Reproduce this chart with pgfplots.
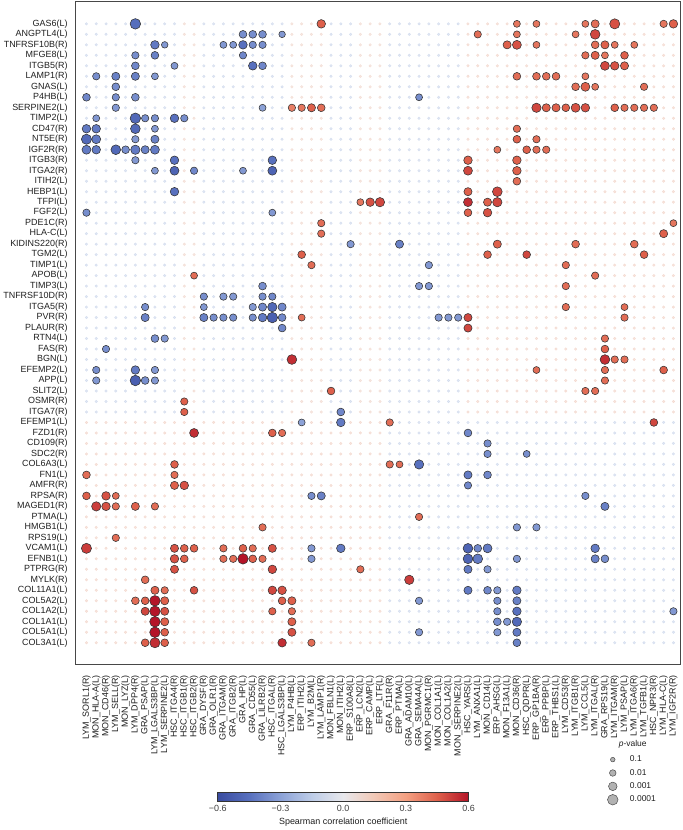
\documentclass[border=0pt]{standalone}
\usepackage{fontspec}
\setmainfont{Liberation Sans}
\usepackage{pgfplots}
\usepackage{pgfplotstable}
\pgfplotsset{compat=1.18}
\usetikzlibrary{calc}

% background (non-significant) cells: column, tint for top rows, tint for bottom rows
\pgfplotstableread{
c vt vb
1 -0.12 0.12
2 -0.12 0.12
3 -0.12 0.12
4 -0.12 0.12
5 -0.12 0.12
6 -0.12 0.12
7 -0.12 0.12
8 -0.12 0.12
9 -0.12 0.12
10 -0.12 0.12
11 0.1 0.12
12 0.1 0.12
13 -0.12 0.12
14 -0.12 0.12
15 -0.12 0.12
16 -0.12 0.12
17 -0.12 0.12
18 -0.12 0.12
19 -0.12 0.12
20 -0.12 0.12
21 -0.12 0.12
22 0.1 0.12
23 0.1 0.12
24 0.1 0.12
25 0.1 0.12
26 -0.12 0.12
27 -0.12 0.12
28 -0.12 0.12
29 0.1 0.12
30 0.1 0.12
31 0.1 0.12
32 -0.12 -0.12
33 -0.12 -0.12
34 -0.12 -0.12
35 -0.12 -0.12
36 -0.12 -0.12
37 -0.12 -0.12
38 -0.12 -0.12
39 -0.12 -0.12
40 0.12 -0.12
41 0.12 -0.12
42 0.12 -0.12
43 0.12 -0.12
44 0.12 -0.12
45 0.12 -0.12
46 0.12 -0.12
47 0.12 -0.12
48 0.12 -0.12
49 0.12 -0.12
50 0.12 -0.12
51 0.12 -0.12
52 0.12 -0.12
53 0.12 -0.12
54 0.12 -0.12
55 0.12 -0.12
56 0.12 -0.12
57 0.12 -0.12
58 0.12 -0.12
59 0.12 -0.12
60 0.12 -0.12
61 0.12 -0.12
}\bgcells

% significant pairs: column, row, Spearman rho, -log10(p)
\pgfplotstableread{
c r v L
6 1 -0.46 4
25 1 0.45 3
45 1 0.40 2.2
47 1 0.40 2.2
52 1 0.40 2.2
53 1 0.42 2.8
55 1 0.48 3.8
60 1 0.40 2.4
61 1 0.45 3
17 2 -0.36 2.6
18 2 -0.36 2.6
19 2 -0.36 2.6
21 2 -0.33 2
41 2 0.42 2.4
45 2 0.40 2.2
51 2 0.40 2.2
53 2 0.50 3.6
8 3 -0.42 3
9 3 -0.33 2
15 3 -0.33 2.2
16 3 -0.33 2.2
17 3 -0.45 3
18 3 -0.36 2.4
19 3 -0.36 2.4
44 3 0.45 2.8
45 3 0.48 3.2
47 3 0.40 2.2
53 3 0.42 2.6
54 3 0.45 2.8
55 3 0.40 2.2
57 3 0.40 2.2
6 4 -0.36 2.4
8 4 -0.40 2.6
17 4 -0.38 2.4
52 4 0.42 2.4
53 4 0.45 2.8
54 4 0.40 2.2
56 4 0.45 2.6
6 5 -0.38 2.6
10 5 -0.33 2.2
18 5 -0.45 3
19 5 -0.38 2.6
54 5 0.50 3.2
55 5 0.48 3
56 5 0.45 2.8
2 6 -0.36 2.4
4 6 -0.40 2.8
6 6 -0.40 2.8
8 6 -0.33 2.2
45 6 0.42 2.6
47 6 0.42 2.6
48 6 0.42 2.6
49 6 0.42 2.6
52 6 0.40 2.2
4 7 -0.36 2.6
51 7 0.42 2.6
52 7 0.45 3.2
53 7 0.40 2.2
58 7 0.42 2.4
1 8 -0.38 2.6
4 8 -0.36 2.4
6 8 -0.36 2.6
35 8 -0.36 2.2
4 9 -0.33 2.4
19 9 -0.30 2.2
22 9 0.38 2.4
23 9 0.40 2.4
24 9 0.45 2.8
25 9 0.42 2.6
47 9 0.50 3.4
48 9 0.45 2.8
49 9 0.45 2.8
50 9 0.45 2.6
51 9 0.48 3.2
52 9 0.48 3
55 9 0.45 2.6
56 9 0.42 2.4
57 9 0.42 2.4
58 9 0.42 2.4
59 9 0.42 2.4
2 10 -0.33 2.2
6 10 -0.48 4
7 10 -0.36 2.4
8 10 -0.36 2.4
10 10 -0.45 3
11 10 -0.36 2.4
1 11 -0.42 3
2 11 -0.42 3
6 11 -0.48 3.6
8 11 -0.33 2.2
45 11 0.42 2.4
1 12 -0.48 3.8
2 12 -0.42 3.2
6 12 -0.33 2.4
8 12 -0.40 2.8
45 12 0.45 2.6
47 12 0.42 2.4
1 13 -0.42 3.2
2 13 -0.42 3
4 13 -0.48 3.6
5 13 -0.36 2.6
6 13 -0.42 3.4
7 13 -0.40 2.8
8 13 -0.42 3.2
43 13 0.40 2.2
46 13 0.45 2.6
47 13 0.42 2.4
48 13 0.42 2.4
6 14 -0.33 2.4
10 14 -0.45 3
20 14 -0.45 3
40 14 0.45 3
45 14 0.45 3
8 15 -0.33 2.2
10 15 -0.50 3.2
12 15 -0.38 2.4
17 15 -0.33 2.2
20 15 -0.50 3.2
40 15 0.50 3.2
45 15 0.45 3
45 16 0.42 2.6
10 17 -0.45 3
40 17 0.45 2.8
43 17 0.50 3.6
29 18 0.40 2.2
30 18 0.48 3
31 18 0.50 3.4
40 18 0.55 3.2
42 18 0.45 2.8
43 18 0.50 3.4
1 19 -0.36 2.4
20 19 -0.33 2.2
40 19 0.45 2.6
42 19 0.48 3
25 20 0.42 2.4
61 20 0.40 2.2
25 21 0.42 2.4
60 21 0.45 2.8
28 22 -0.33 2.4
33 22 -0.40 2.8
43 22 0.45 2.8
51 22 0.42 2.6
57 22 0.42 2.6
23 23 0.45 2.6
42 23 0.45 2.6
46 23 0.50 2.6
58 23 0.45 2.6
24 24 0.42 2.4
36 24 -0.33 2.4
50 24 0.42 2.4
12 25 0.42 2.2
53 25 0.42 2.4
19 26 -0.36 2.6
35 26 -0.33 2.4
36 26 -0.33 2.4
50 26 0.42 2.4
13 27 -0.36 2.4
15 27 -0.33 2.4
16 27 -0.33 2.4
19 27 -0.36 2.4
20 27 -0.38 2.4
7 28 -0.36 2.4
13 28 -0.33 2.2
18 28 -0.33 2.4
19 28 -0.38 2.8
20 28 -0.48 3.4
21 28 -0.38 2.8
50 28 0.42 2.4
56 28 0.42 2.2
7 29 -0.40 2.8
13 29 -0.40 2.8
14 29 -0.36 2.4
15 29 -0.36 2.4
16 29 -0.36 2.4
18 29 -0.36 2.4
19 29 -0.42 3
20 29 -0.52 4
21 29 -0.38 2.6
23 29 0.42 2.2
37 29 -0.33 2.4
38 29 -0.33 2.4
39 29 -0.33 2.4
40 29 0.50 2.8
56 29 0.42 2.4
21 30 -0.38 2.6
40 30 0.50 2.8
8 31 -0.36 2.6
9 31 -0.33 2.4
54 31 0.42 2.4
3 32 -0.36 2.4
54 32 0.45 2.6
22 33 0.55 3.6
54 33 0.55 3.6
55 33 0.42 2.4
56 33 0.42 2.4
2 34 -0.36 2.4
6 34 -0.42 3
8 34 -0.33 2.4
47 34 0.42 2.2
54 34 0.42 2.4
60 34 0.45 2.6
2 35 -0.33 2.4
6 35 -0.52 4
7 35 -0.36 2.6
8 35 -0.33 2.4
54 35 0.42 2.4
26 36 0.45 2.6
52 36 0.42 2.4
53 36 0.42 2.4
11 37 0.45 2.4
11 38 0.45 2.4
27 38 -0.38 2.6
23 39 -0.30 2.2
27 39 -0.42 3
32 39 0.42 2.4
59 39 0.50 2.6
12 40 0.55 3.2
20 40 0.45 2.6
21 40 0.42 2.4
40 40 -0.38 2.6
42 41 -0.36 2.4
42 42 -0.36 2.4
46 42 -0.36 2.2
10 43 0.45 2.6
32 43 0.42 2.4
33 43 0.42 2.2
35 43 -0.45 3.4
1 44 0.42 2.6
10 44 0.42 2.4
40 44 -0.42 2.8
42 44 -0.38 2.6
10 45 0.45 2.8
11 45 0.48 3
40 45 -0.38 2.4
1 46 0.45 2.6
3 46 0.48 3
4 46 0.42 2.2
24 46 -0.36 2.4
25 46 -0.40 2.8
52 46 -0.36 2.4
2 47 0.52 3.4
3 47 0.48 3
4 47 0.42 2.4
6 47 0.45 2.8
8 47 0.42 2.4
54 47 -0.40 2.8
35 48 0.42 2.4
19 49 0.42 2.4
45 49 -0.33 2.4
47 49 -0.33 2.4
4 50 0.42 2.4
1 51 0.52 3.8
10 51 0.48 2.8
11 51 0.45 2.6
12 51 0.45 2.6
15 51 0.42 2.4
17 51 0.45 2.6
18 51 0.42 2.4
20 51 0.48 2.8
24 51 -0.33 2.4
27 51 -0.42 3
40 51 -0.50 3.6
41 51 -0.38 2.6
42 51 -0.42 3.2
53 51 -0.42 3
10 52 0.48 3
11 52 0.45 2.6
15 52 0.42 2.4
16 52 0.42 2.4
17 52 0.60 4
18 52 0.45 2.6
19 52 0.42 2.4
24 52 -0.33 2.4
40 52 -0.50 3.6
41 52 -0.42 3.6
45 52 -0.33 2.4
53 52 -0.40 2.8
54 52 -0.36 2.6
10 53 0.48 2.8
20 53 0.50 3
29 53 0.42 2.4
40 53 -0.42 2.8
42 53 -0.33 2.4
7 54 0.42 2.6
34 54 0.52 3.4
8 55 0.45 2.8
9 55 0.42 2.4
12 55 0.48 2.6
20 55 0.50 3
21 55 0.48 3
40 55 -0.42 2.8
42 55 -0.38 2.6
43 55 -0.33 2.4
45 55 -0.42 3
6 56 0.42 2.6
7 56 0.45 2.6
8 56 0.62 4
9 56 0.45 2.8
21 56 0.45 2.6
22 56 0.45 2.8
35 56 -0.33 2.4
43 56 -0.36 2.4
45 56 -0.40 2.8
7 57 0.50 2.8
8 57 0.62 4
9 57 0.48 2.8
20 57 0.45 2.4
22 57 0.42 2.4
43 57 -0.36 2.4
45 57 -0.45 3
61 57 -0.33 2.4
8 58 0.62 4
9 58 0.45 2.8
22 58 0.45 2.8
43 58 -0.36 2.6
44 58 -0.33 2.4
45 58 -0.48 3.4
8 59 0.62 4
9 59 0.45 2.6
22 59 0.48 2.8
35 59 -0.33 2.4
43 59 -0.33 2.4
45 59 -0.42 2.8
7 60 0.45 2.6
8 60 0.55 3.8
9 60 0.45 2.6
21 60 0.55 3
24 60 0.42 2.4
45 60 -0.40 2.6
}\sigcells

\begin{document}
\begin{tikzpicture}
\begin{axis}[name=main, width=608pt, height=667pt, scale only axis,
 xmin=-0.12, xmax=61.73, ymin=-1.18, ymax=62.1, y dir=reverse,
 xtick={1,...,61}, ytick={1,...,60},
 xticklabels={LYM\_SORL1(R),MON\_HLA-A(L),MON\_CD46(R),LYM\_SELL(R),MON\_LYZ(L),LYM\_DPP4(R),GRA\_PSAP(L),LYM\_LGALS3BP(L),LYM\_SERPINE2(L),HSC\_ITGA4(R),HSC\_ITGB1(R),HSC\_ITGB2(R),GRA\_DYSF(R),GRA\_OLR1(R),GRA\_ITGAM(R),GRA\_ITGB2(R),GRA\_HP(L),GRA\_CD55(L),GRA\_LILRB2(R),HSC\_ITGAL(R),HSC\_LGALS3BP(L),LYM\_P4HB(L),ERP\_ITIH2(L),LYM\_B2M(L),LYM\_LAMP1(R),MON\_FBLN1(L),MON\_ITIH2(L),ERP\_S100A8(L),ERP\_LCN2(L),ERP\_CAMP(L),ERP\_LTF(L),GRA\_F11R(R),ERP\_PTMA(L),GRA\_ADAM10(L),GRA\_SEMA4A(L),MON\_PGRMC1(R),MON\_COL1A1(L),MON\_COL1A2(L),MON\_SERPINE2(L),HSC\_YARS(L),LYM\_ANXA1(L),MON\_CD14(L),ERP\_AHSG(L),MON\_F13A1(L),MON\_CD36(R),HSC\_QDPR(L),ERP\_GP1BA(R),ERP\_PPBP(L),ERP\_THBS1(L),LYM\_CD53(R),LYM\_ITGB1(R),LYM\_CCL5(L),LYM\_ITGAL(R),GRA\_RPS19(L),LYM\_ITGAM(R),LYM\_PSAP(L),LYM\_ITGA6(R),LYM\_TGFB1(L),HSC\_NPR3(R),LYM\_HLA-C(L),LYM\_IGF2R(R)},
 yticklabels={GAS6(L),ANGPTL4(L),TNFRSF10B(R),MFGE8(L),ITGB5(R),LAMP1(R),GNAS(L),P4HB(L),SERPINE2(L),TIMP2(L),CD47(R),NT5E(R),IGF2R(R),ITGB3(R),ITGA2(R),ITIH2(L),HEBP1(L),TFPI(L),FGF2(L),PDE1C(R),HLA-C(L),KIDINS220(R),TGM2(L),TIMP1(L),APOB(L),TIMP3(L),TNFRSF10D(R),ITGA5(R),PVR(R),PLAUR(R),RTN4(L),FAS(R),BGN(L),EFEMP2(L),APP(L),SLIT2(L),OSMR(R),ITGA7(R),EFEMP1(L),FZD1(R),CD109(R),SDC2(R),COL6A3(L),FN1(L),AMFR(R),RPSA(R),MAGED1(R),PTMA(L),HMGB1(L),RPS19(L),VCAM1(L),EFNB1(L),PTPRG(R),MYLK(R),COL11A1(L),COL5A2(L),COL1A2(L),COL1A1(L),COL5A1(L),COL3A1(L)},
 major tick length=0pt,
 tick label style={font=\fontsize{9}{10}\selectfont, text=black!88},
 xticklabel style={rotate=90, anchor=east},
 xticklabel shift=7pt, yticklabel shift=4.5pt,
 axis line style={black!72, line width=0.9pt},
 colormap={cw}{rgb255=(58,76,160) rgb255=(88,112,190) rgb255=(140,162,215) rgb255=(190,205,232) rgb255=(232,232,236) rgb255=(242,200,182) rgb255=(244,160,130) rgb255=(222,96,75) rgb255=(180,20,40)},
 point meta min=-0.6, point meta max=0.6,
 colorbar horizontal,
 colorbar style={at={($(parent axis.south west)+(143pt,-120pt)$)}, anchor=north west,
   width=252pt, height=9pt, major tick length=0pt,
   xtick={-0.6,-0.3,0,0.3,0.6}, xticklabels={−0.6,−0.3,0.0,0.3,0.6},
   xticklabel style={rotate=0, anchor=north, font=\fontsize{9}{10}\selectfont, text=black!75},
   xlabel={Spearman correlation coefficient},
   xlabel style={font=\fontsize{9}{10}\selectfont, text=black!88},
   axis line style={black!80, line width=0.7pt}},
 legend style={at={(0.874,-0.131)}, anchor=north west, draw=none, fill=none,
   font=\fontsize{8.5}{9.5}\selectfont, row sep=2pt, text=black!88,
   /tikz/every odd column/.append style={column sep=10pt}},
 legend cell align=left,
 clip=false]

\pgfplotsinvokeforeach{1,...,38}{
 \addplot[forget plot, scatter, only marks, mark=*, mark size=1.35pt, point meta=explicit,
   scatter/use mapped color={draw=mapped color, fill=mapped color, opacity=0.55}]
   table[x=c, y expr=#1, meta=vt] {\bgcells};
}
\pgfplotsinvokeforeach{39,...,60}{
 \addplot[forget plot, scatter, only marks, mark=*, mark size=1.35pt, point meta=explicit,
   scatter/use mapped color={draw=mapped color, fill=mapped color, opacity=0.55}]
   table[x=c, y expr=#1, meta=vb] {\bgcells};
}

\addplot[forget plot, scatter, only marks, mark=*, point meta=explicit,
  scatter/use mapped color={draw=black!80, line width=0.55pt, fill=mapped color},
  visualization depends on={\thisrow{L} \as \lp},
  scatter/@pre marker code/.append style={/tikz/mark size={1.3+\lp}}]
  table[x=c, y=r, meta=v] {\sigcells};

\addlegendimage{only marks, mark=*, mark size=2.3pt, mark options={fill=gray!60, draw=black!70, line width=0.5pt}}
\addlegendentry{0.1}
\addlegendimage{only marks, mark=*, mark size=3.3pt, mark options={fill=gray!60, draw=black!70, line width=0.5pt}}
\addlegendentry{0.01}
\addlegendimage{only marks, mark=*, mark size=4.3pt, mark options={fill=gray!60, draw=black!70, line width=0.5pt}}
\addlegendentry{0.001}
\addlegendimage{only marks, mark=*, mark size=5.3pt, mark options={fill=gray!60, draw=black!70, line width=0.5pt}}
\addlegendentry{0.0001}

\node[font=\fontsize{8.5}{9.5}\selectfont, text=black!88] at (axis description cs:0.921,-0.12) {\textit{p}-value};
\end{axis}
\path (main.south west) ++(-75pt,-162pt) rectangle ++(685pt,830pt);
\end{tikzpicture}
\end{document}
